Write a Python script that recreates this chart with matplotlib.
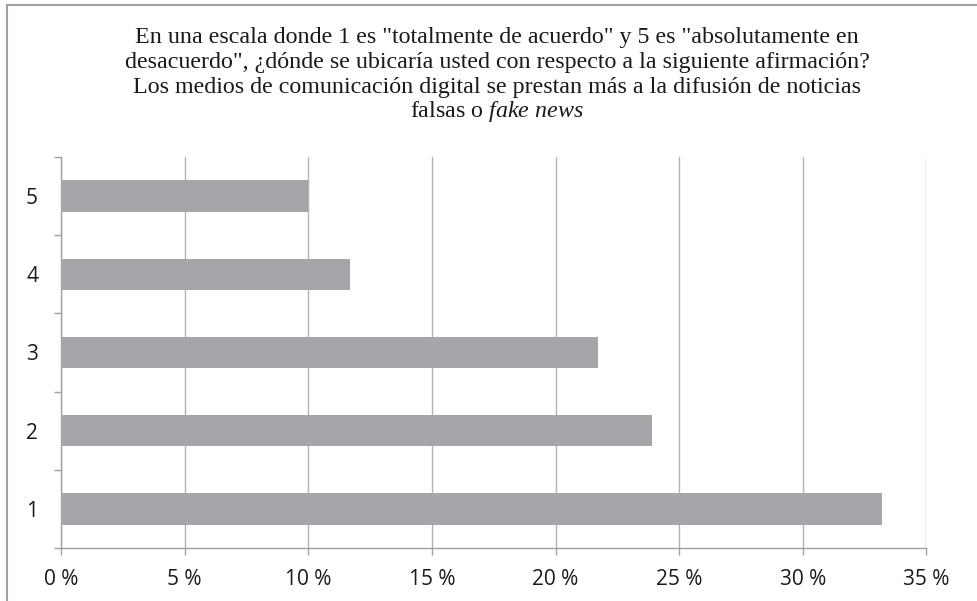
import matplotlib
matplotlib.use("Agg")
import matplotlib.pyplot as plt
from matplotlib.lines import Line2D

plt.rcParams["mathtext.fontset"] = "custom"
plt.rcParams["mathtext.rm"] = "Liberation Serif"
plt.rcParams["mathtext.it"] = "Liberation Serif:italic"

categories = ["1", "2", "3", "4", "5"]
values = [33.2, 23.9, 21.7, 11.7, 10.0]
xticks = [0, 5, 10, 15, 20, 25, 30, 35]
xtick_labels = ["0 %", "5 %", "10 %", "15 %", "20 %", "25 %", "30 %", "35 %"]

W, H = 978, 601
fig = plt.figure(figsize=(W / 100, H / 100), dpi=100)
ax = fig.add_axes([61 / W, 1 - 548 / H, (926.5 - 61) / W, (548 - 157) / H])

ypos = list(range(len(categories)))
ax.barh(ypos, values, height=0.4, color="#a5a6a9", zorder=3)
ax.set_xlim(0, 35)
ax.set_ylim(-0.5, len(categories) - 0.5)

ax.set_xticks(xticks)
ax.set_xticklabels(xtick_labels)
ax.set_yticks(ypos)
ax.set_yticklabels(categories)
ax.set_yticks([i - 0.5 for i in range(len(categories) + 1)], minor=True)

for lab in ax.get_xticklabels() + ax.get_yticklabels():
    lab.set_fontfamily("Open Sans")
    lab.set_fontsize(15)
    lab.set_color("#1a1a1a")

ax.tick_params(axis="x", which="major", length=5, width=1, color="#a0a0a0", pad=10, direction="out")
ax.tick_params(axis="y", which="major", length=0, pad=16.5)
ax.tick_params(axis="y", which="minor", length=5, width=1, color="#a0a0a0", direction="out")

ax.grid(axis="x", color="#b3b3b3", linewidth=1, zorder=0)
for s in ["top", "right"]:
    ax.spines[s].set_visible(False)
for s in ["left", "bottom"]:
    ax.spines[s].set_color("#a0a0a0")
    ax.spines[s].set_linewidth(1)

title_lines = [
    'En una escala donde 1 es "totalmente de acuerdo" y 5 es "absolutamente en',
    'desacuerdo", ¿dónde se ubicaría usted con respecto a la siguiente afirmación?',
    'Los medios de comunicación digital se prestan más a la difusión de noticias',
]
ys = [38, 62.5, 87]
fs_title = 17.3
for t, y in zip(title_lines, ys):
    fig.text(497 / W, 1 - y / H, t, ha="center", va="center",
             fontfamily="Liberation Serif", fontsize=fs_title, color="#1a1a1a")
fig.text(497 / W, 1 - 111.5 / H, r"falsas o $\it{fake\ news}$", ha="center", va="center",
         fontfamily="Liberation Serif", fontsize=fs_title, color="#1a1a1a")

# outer frame (top and left)
fig.add_artist(Line2D([7 / W, 1], [1 - 5 / H, 1 - 5 / H], color="#a0a0a0", lw=1.5, transform=fig.transFigure))
fig.add_artist(Line2D([7 / W, 7 / W], [0, 1 - 5 / H], color="#a0a0a0", lw=1.5, transform=fig.transFigure))

fig.savefig("out.png", dpi=100)
